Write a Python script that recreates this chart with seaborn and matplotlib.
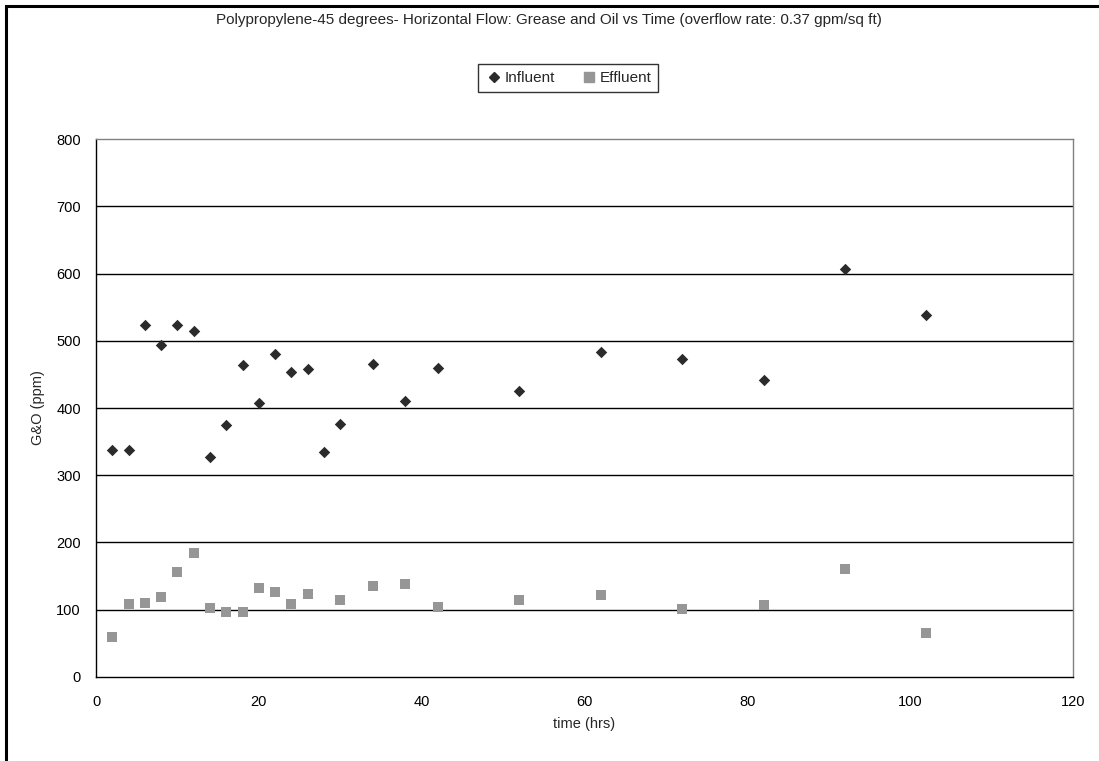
import matplotlib
matplotlib.use("Agg")
import matplotlib.pyplot as plt
import seaborn as sns
import pandas as pd
from matplotlib.lines import Line2D
from matplotlib.patches import Rectangle

# Sampling times (hrs) and grease & oil concentrations (ppm)
influent_time = [2, 4, 6, 8, 10, 12, 14, 16, 18, 20, 22, 24, 26, 28, 30, 34, 38, 42, 52, 62, 72, 82, 92, 102]
influent_go = [338, 338, 523, 494, 524, 515, 327, 375, 464, 407, 481, 453, 458, 335, 376, 465, 411, 460, 425, 483, 473, 442, 606, 539]

effluent_time = [2, 4, 6, 8, 10, 12, 14, 16, 18, 20, 22, 24, 26, 30, 34, 38, 42, 52, 62, 72, 82, 92, 102]
effluent_go = [60, 108, 110, 119, 156, 184, 102, 96, 97, 133, 126, 109, 124, 114, 136, 138, 104, 115, 122, 101, 107, 161, 65]

y_ticks = [0, 100, 200, 300, 400, 500, 600, 700, 800]
x_ticks = [0, 20, 40, 60, 80, 100, 120]

sns.set_theme(style="white")
plt.rcParams["font.family"] = ["Liberation Sans", "DejaVu Sans"]

df = pd.concat([
    pd.DataFrame({"time (hrs)": influent_time, "G&O (ppm)": influent_go, "series": "Influent"}),
    pd.DataFrame({"time (hrs)": effluent_time, "G&O (ppm)": effluent_go, "series": "Effluent"}),
], ignore_index=True)

fig = plt.figure(figsize=(10.99, 7.61), dpi=100)
ax = fig.add_axes([0.0874, 0.1104, 0.8889, 0.7069])

sns.scatterplot(
    data=df[df["series"] == "Effluent"], x="time (hrs)", y="G&O (ppm)",
    color="#969696", marker="s", s=52, linewidth=0, legend=False, ax=ax, zorder=3,
)
sns.scatterplot(
    data=df[df["series"] == "Influent"], x="time (hrs)", y="G&O (ppm)",
    color="#2b2b2b", marker="D", s=34, linewidth=0, legend=False, ax=ax, zorder=4,
)

ax.set_xlim(0, 120)
ax.set_ylim(0, 800)
ax.set_xticks(x_ticks)
ax.set_yticks(y_ticks)
ax.tick_params(axis="both", direction="out", length=5, width=1, color="black",
               labelsize=10.5, labelcolor="black", pad=6)
ax.tick_params(axis="x", pad=8)
for y in y_ticks[1:-1]:
    ax.axhline(y, color="black", linewidth=1, zorder=1)

for side in ["left", "bottom"]:
    ax.spines[side].set_color("black")
    ax.spines[side].set_linewidth(1)
for side in ["top", "right"]:
    ax.spines[side].set_color("#808080")
    ax.spines[side].set_linewidth(1)

ax.set_xlabel("time (hrs)", fontsize=10.5, labelpad=6)
ax.set_ylabel("G&O (ppm)", fontsize=10.5, labelpad=8)

fig.text(0.4995, 0.974,
         "Polypropylene-45 degrees- Horizontal Flow: Grease and Oil vs Time (overflow rate: 0.37 gpm/sq ft)",
         ha="center", va="center", fontsize=11)

handles = [
    Line2D([], [], marker="D", linestyle="none", color="#2b2b2b", markersize=5.5, label="Influent"),
    Line2D([], [], marker="s", linestyle="none", color="#969696", markersize=7, label="Effluent"),
]
leg = fig.legend(handles=handles, loc="center", bbox_to_anchor=(0.517, 0.8975), ncol=2,
                 frameon=True, fancybox=False, fontsize=11, handletextpad=0.1,
                 columnspacing=1.6, borderpad=0.45, handlelength=1.2)
leg.get_frame().set_edgecolor("black")
leg.get_frame().set_linewidth(1)

# outer chart frame (left and top edges visible)
fig.patches.append(Rectangle((6 / 1099, -0.1), 1.2, 1.1 - 6 / 761, transform=fig.transFigure,
                             fill=False, edgecolor="black", linewidth=2.2))

fig.savefig("out.png", dpi=100)
